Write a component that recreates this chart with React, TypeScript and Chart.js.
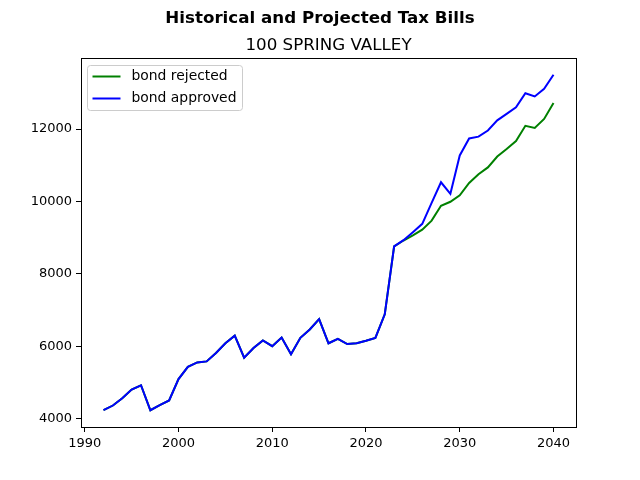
import React, { useEffect, useRef } from "react";
import { Chart, registerables } from "chart.js";

Chart.register(...registerables);

// Tax years shown on the chart
const years = [
  1992, 1993, 1994, 1995, 1996, 1997, 1998, 1999, 2000, 2001, 2002, 2003,
  2004, 2005, 2006, 2007, 2008, 2009, 2010, 2011, 2012, 2013, 2014, 2015,
  2016, 2017, 2018, 2019, 2020, 2021, 2022, 2023, 2024, 2025, 2026, 2027,
  2028, 2029, 2030, 2031, 2032, 2033, 2034, 2035, 2036, 2037, 2038, 2039,
  2040,
];

// Actual bills 1992–2023 (shared by both scenarios)
const historicalBills = [
  4230, 4360, 4560, 4800, 4920, 4230, 4370, 4500, 5090, 5430, 5550, 5580,
  5810, 6080, 6290, 5680, 5950, 6160, 6000, 6240, 5780, 6230, 6460, 6750,
  6080, 6200, 6060, 6080, 6150, 6230, 6880, 8760,
];

// Projected bills 2024–2040
const projectedRejected = [
  8920, 9060, 9220, 9470, 9880, 9990, 10170, 10510, 10750, 10940, 11240,
  11450, 11670, 12090, 12030, 12280, 12720,
];
const projectedApproved = [
  8930, 9150, 9380, 9960, 10530, 10210, 11270, 11740, 11790, 11960, 12240,
  12420, 12600, 12990, 12900, 13110, 13500,
];

const xTicks = [1990, 2000, 2010, 2020, 2030, 2040];
const yTicks = [4000, 6000, 8000, 10000, 12000];

const seriesLabels = ["bond rejected", "bond approved"];
const seriesColors = ["#008000", "#0000ff"];

const FONT = "'DejaVu Sans', sans-serif";

const toPoints = (vals: number[]) =>
  vals.map((v, i) => ({ x: years[i], y: v }));

const rejectedSeries = historicalBills.concat(projectedRejected);
const approvedSeries = historicalBills.concat(projectedApproved);

// 5% padding around the data range on both axes
const pad = (lo: number, hi: number) => {
  const m = (hi - lo) * 0.05;
  return [lo - m, hi + m];
};
const [xMin, xMax] = pad(Math.min(...years), Math.max(...years));
const allVals = rejectedSeries.concat(approvedSeries);
const [yMin, yMax] = pad(Math.min(...allVals), Math.max(...allVals));

const framePlugin = {
  id: "frameAndTitles",
  afterDraw(chart: any) {
    const { ctx, chartArea } = chart;
    const { left, right, top, bottom } = chartArea;
    ctx.save();
    // axes box
    ctx.strokeStyle = "#000";
    ctx.lineWidth = 1;
    ctx.strokeRect(
      Math.round(left) + 0.5,
      Math.round(top) + 0.5,
      Math.round(right - left),
      Math.round(bottom - top)
    );

    // titles
    ctx.fillStyle = "#000";
    ctx.textAlign = "center";
    ctx.textBaseline = "alphabetic";
    ctx.font = `bold 16.7px ${FONT}`;
    ctx.fillText("Historical and Projected Tax Bills", 320, 23);
    ctx.font = `16.7px ${FONT}`;
    ctx.fillText("100 SPRING VALLEY", (left + right) / 2, 49.5);

    // legend
    const bx = left + 6.5;
    const by = top + 7.5;
    const bw = 155;
    const bh = 45;
    const r = 3;
    ctx.beginPath();
    ctx.moveTo(bx + r, by);
    ctx.lineTo(bx + bw - r, by);
    ctx.arcTo(bx + bw, by, bx + bw, by + r, r);
    ctx.lineTo(bx + bw, by + bh - r);
    ctx.arcTo(bx + bw, by + bh, bx + bw - r, by + bh, r);
    ctx.lineTo(bx + r, by + bh);
    ctx.arcTo(bx, by + bh, bx, by + bh - r, r);
    ctx.lineTo(bx, by + r);
    ctx.arcTo(bx, by, bx + r, by, r);
    ctx.closePath();
    ctx.fillStyle = "rgba(255,255,255,0.8)";
    ctx.fill();
    ctx.strokeStyle = "#cccccc";
    ctx.stroke();

    ctx.font = `13.9px ${FONT}`;
    ctx.textAlign = "left";
    ctx.textBaseline = "middle";
    seriesLabels.forEach((label, i) => {
      const cy = by + 11 + i * 22;
      ctx.strokeStyle = seriesColors[i];
      ctx.lineWidth = 2;
      ctx.beginPath();
      ctx.moveTo(bx + 5, cy);
      ctx.lineTo(bx + 33, cy);
      ctx.stroke();
      ctx.fillStyle = "#000";
      ctx.fillText(label, bx + 44, cy);
    });
    ctx.restore();
  },
};

export default function App() {
  const canvasRef = useRef<HTMLCanvasElement | null>(null);

  useEffect(() => {
    if (!canvasRef.current) return;
    const keepOnly = (vals: number[]) => (scale: any) => {
      scale.ticks = vals.map((v) => ({ value: v }));
    };
    const chart = new Chart(canvasRef.current, {
      type: "line",
      data: {
        datasets: [
          {
            label: seriesLabels[0],
            data: toPoints(rejectedSeries),
            borderColor: seriesColors[0],
            borderWidth: 2,
            pointRadius: 0,
            tension: 0,
            fill: false,
            order: 1,
          },
          {
            label: seriesLabels[1],
            data: toPoints(approvedSeries),
            borderColor: seriesColors[1],
            borderWidth: 2,
            pointRadius: 0,
            tension: 0,
            fill: false,
            order: 0,
          },
        ],
      },
      options: {
        animation: false,
        responsive: false,
        events: [],
        layout: { padding: { left: 0, right: 64, top: 58, bottom: 0 } },
        plugins: {
          legend: { display: false },
          title: { display: false },
          tooltip: { enabled: false },
        },
        scales: {
          x: {
            type: "linear",
            min: xMin,
            max: xMax,
            afterBuildTicks: keepOnly(xTicks),
            afterFit: (s: any) => {
              s.height = 53;
            },
            grid: {
              display: true,
              drawOnChartArea: false,
              drawTicks: true,
              tickLength: 5,
              tickColor: "#000",
            },
            border: { display: true, color: "#000", width: 1 },
            ticks: {
              color: "#000",
              font: { family: FONT, size: 13 },
              padding: 4,
              maxRotation: 0,
              callback: (v: any) => String(v),
            },
          },
          y: {
            type: "linear",
            min: yMin,
            max: yMax,
            afterBuildTicks: keepOnly(yTicks),
            afterFit: (s: any) => {
              s.width = 81;
            },
            grid: {
              display: true,
              drawOnChartArea: false,
              drawTicks: true,
              tickLength: 5,
              tickColor: "#000",
            },
            border: { display: true, color: "#000", width: 1 },
            ticks: {
              color: "#000",
              font: { family: FONT, size: 13 },
              padding: 4,
              callback: (v: any) => String(v),
            },
          },
        },
      },
      plugins: [framePlugin],
    });
    return () => chart.destroy();
  }, []);

  return (
    <div
      style={{
        position: "fixed",
        left: 0,
        top: 0,
        width: 640,
        height: 480,
        background: "#fff",
      }}
    >
      <canvas ref={canvasRef} width={640} height={480} />
    </div>
  );
}
